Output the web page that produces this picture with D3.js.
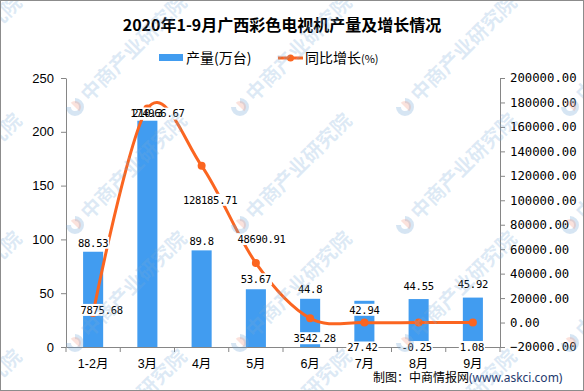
<!DOCTYPE html>
<html>
<head>
<meta charset="utf-8">
<script src="https://cdn.jsdelivr.net/npm/d3@7"></script>
<style>
  html, body { margin: 0; padding: 0; background: #fff; }
  svg { display: block; }
</style>
</head>
<body>
<svg id="chart" width="584" height="391"></svg>
<script>
// ---- data ----
const categories = ["1-2月", "3月", "4月", "5月", "6月", "7月", "8月", "9月"];
const production = [88.53, 210.3, 89.8, 53.67, 44.8, 42.94, 44.55, 45.92];
const growth = [7875.68, 174966.67, 128185.71, 48690.91, 3542.28, 27.42, -0.25, 1.08];
const leftTicks = [0, 50, 100, 150, 200, 250];
const rightTicks = [-20000, 0, 20000, 40000, 60000, 80000, 100000, 120000, 140000, 160000, 180000, 200000];
const titleText = "2020年1-9月广西彩色电视机产量及增长情况";
const seriesNames = ["产量(万台)", "同比增长"];
const sourceText = "制图：中商情报网";
const sourceUrl = "(www.askci.com)";

// label placement tweaks (layout only)
const barLabelDy = [-9, -7, -9, -10, -9.5, 9, -13, -13.5];
const lineLabelDx = [8.5, 10, 8.5, 5.7, 4.5, -2, -2, -1];
const lineLabelDy = [-3, 5, 34, -24, 20, 25, 24.5, 24.5];

const BLUE = "#419CF0", ORANGE = "#FB6520", AXIS = "#868686";
const svg = d3.select("#chart");
const W = 584, H = 391;
const plot = { left: 66, right: 500, top: 78, bottom: 347 };

const x = d3.scaleBand().domain(categories).range([plot.left, plot.right]).padding(0);
const yL = d3.scaleLinear().domain([0, 250]).range([plot.bottom, plot.top]);
const yR = d3.scaleLinear().domain([-20000, 200000]).range([plot.bottom, plot.top]);
const barW = x.bandwidth() * 0.37;
const cx = d => x(d) + x.bandwidth() / 2;

svg.append("rect").attr("width", W).attr("height", H).attr("fill", "#fff");

// title
svg.append("text").attr("x", 282).attr("y", 31).attr("text-anchor", "middle")
  .attr("font-family", "'Noto Sans CJK SC', sans-serif").attr("font-weight", "bold")
  .attr("font-size", 16).attr("fill", "#000").text(titleText);

// legend
const lg = svg.append("g").attr("font-family", "'Noto Sans CJK SC', sans-serif").attr("font-size", 14);
lg.append("rect").attr("x", 159).attr("y", 54).attr("width", 24).attr("height", 7).attr("fill", BLUE);
lg.append("text").attr("x", 186).attr("y", 62.5).text(seriesNames[0]);
lg.append("line").attr("x1", 278).attr("x2", 303).attr("y1", 58).attr("y2", 58)
  .attr("stroke", ORANGE).attr("stroke-width", 3);
lg.append("circle").attr("cx", 290.5).attr("cy", 58).attr("r", 3.5).attr("fill", ORANGE);
const lt = lg.append("text").attr("x", 305).attr("y", 62.5);
lt.append("tspan").text(seriesNames[1]);
lt.append("tspan").attr("font-size", 11).text("(%)");

// bars
const barG = svg.append("g").attr("class", "bars");
barG.selectAll("rect").data(production).join("rect")
  .attr("x", (d, i) => cx(categories[i]) - barW / 2)
  .attr("y", d => yL(d))
  .attr("width", barW)
  .attr("height", d => yL(0) - yL(d))
  .attr("fill", BLUE);

// axes
const axL = svg.append("g").attr("transform", `translate(${plot.left},0)`)
  .call(d3.axisLeft(yL).tickValues(leftTicks).tickSize(5).tickSizeOuter(0).tickPadding(7));
axL.selectAll("text").attr("font-family", "'Liberation Sans', Arial, sans-serif").attr("font-size", 13).attr("fill", "#000");

const axR = svg.append("g").attr("transform", `translate(${plot.right},0)`)
  .call(d3.axisRight(yR).tickValues(rightTicks).tickFormat(d3.format(".2f")).tickSize(5).tickSizeOuter(0).tickPadding(5));
axR.selectAll("text").attr("font-family", "'DejaVu Sans Mono', monospace").attr("font-size", 12.3).attr("fill", "#000");

const axB = svg.append("g").attr("transform", `translate(0,${plot.bottom})`)
  .call(d3.axisBottom(x).tickSize(0).tickPadding(12));
axB.selectAll("text").attr("font-family", "'Liberation Sans', 'Noto Sans CJK SC', sans-serif").attr("font-size", 12.5).attr("fill", "#000");
axB.selectAll(".tick line").remove();
const bounds = categories.map(c => x(c)).concat([plot.right]);
axB.selectAll(".bnd").data(bounds).join("line").attr("class", "bnd")
  .attr("x1", d => d).attr("x2", d => d).attr("y1", 0).attr("y2", 5).attr("stroke", AXIS);

[axL, axR, axB].forEach(a => {
  a.select(".domain").attr("stroke", AXIS);
  a.selectAll("line").attr("stroke", AXIS);
});

// line
const pts = growth.map((v, i) => [cx(categories[i]), yR(v)]);
svg.append("path").attr("d", d3.line().curve(d3.curveCardinal.tension(0))(pts))
  .attr("fill", "none").attr("stroke", ORANGE).attr("stroke-width", 3);
svg.append("g").selectAll("circle").data(pts).join("circle")
  .attr("cx", d => d[0]).attr("cy", d => d[1]).attr("r", 4).attr("fill", ORANGE);

// labels: white boxes first, then texts
const labels = [];
production.forEach((v, i) => labels.push({ x: cx(categories[i]), y: yL(v) + barLabelDy[i], t: String(v) }));
growth.forEach((v, i) => labels.push({ x: cx(categories[i]) + lineLabelDx[i], y: yR(v) + lineLabelDy[i], t: v.toFixed(2) }));
const boxG = svg.append("g");
const txtG = svg.append("g");
labels.forEach(l => {
  const t = txtG.append("text").attr("x", l.x).attr("y", l.y).attr("dy", "0.36em")
    .attr("text-anchor", "middle").attr("font-family", "'DejaVu Sans Mono', monospace")
    .attr("font-size", 10.5).attr("letter-spacing", -0.3).attr("fill", "#000").text(l.t);
  const wdt = t.node().getComputedTextLength();
  boxG.append("rect").attr("x", l.x - wdt / 2 - 1).attr("y", l.y - 6)
    .attr("width", wdt + 2).attr("height", 12).attr("fill", "#fff");
});

// footer
const ft = svg.append("text").attr("x", 373).attr("y", 382).attr("font-size", 12)
  .attr("font-family", "'Noto Sans CJK SC', sans-serif");
ft.append("tspan").attr("fill", "#000").text(sourceText);
ft.append("tspan").attr("fill", "#1F3A6E").attr("font-family", "'Noto Sans', sans-serif").text(sourceUrl);

// watermark
const wm = svg.append("g").attr("pointer-events", "none");
[-90, 75, 240, 405, 570].forEach(lx => {
  [-11, 107, 225, 343, 461].forEach(ly => {
    const g = wm.append("g").attr("transform", `translate(${lx},${ly}) rotate(-45)`);
    g.append("path").attr("d", d3.arc()({ innerRadius: 4, outerRadius: 9, startAngle: Math.PI * 0.25, endAngle: Math.PI * 1.75 }))
      .attr("fill", "rgba(120,170,215,0.3)");
    g.append("path").attr("d", d3.arc()({ innerRadius: 0, outerRadius: 6, startAngle: 0, endAngle: Math.PI }))
      .attr("fill", "rgba(240,150,130,0.28)");
    g.append("text").attr("x", 13).attr("y", 7).attr("font-family", "'Noto Sans CJK SC', sans-serif")
      .attr("font-weight", "bold").attr("font-size", 20).attr("fill", "rgba(120,170,215,0.25)").text("中商产业研究院");
  });
});

// border
svg.append("rect").attr("x", 0.5).attr("y", 0.5).attr("width", W - 1).attr("height", H - 1)
  .attr("fill", "none").attr("stroke", "#8c8c8c");
</script>
</body>
</html>
